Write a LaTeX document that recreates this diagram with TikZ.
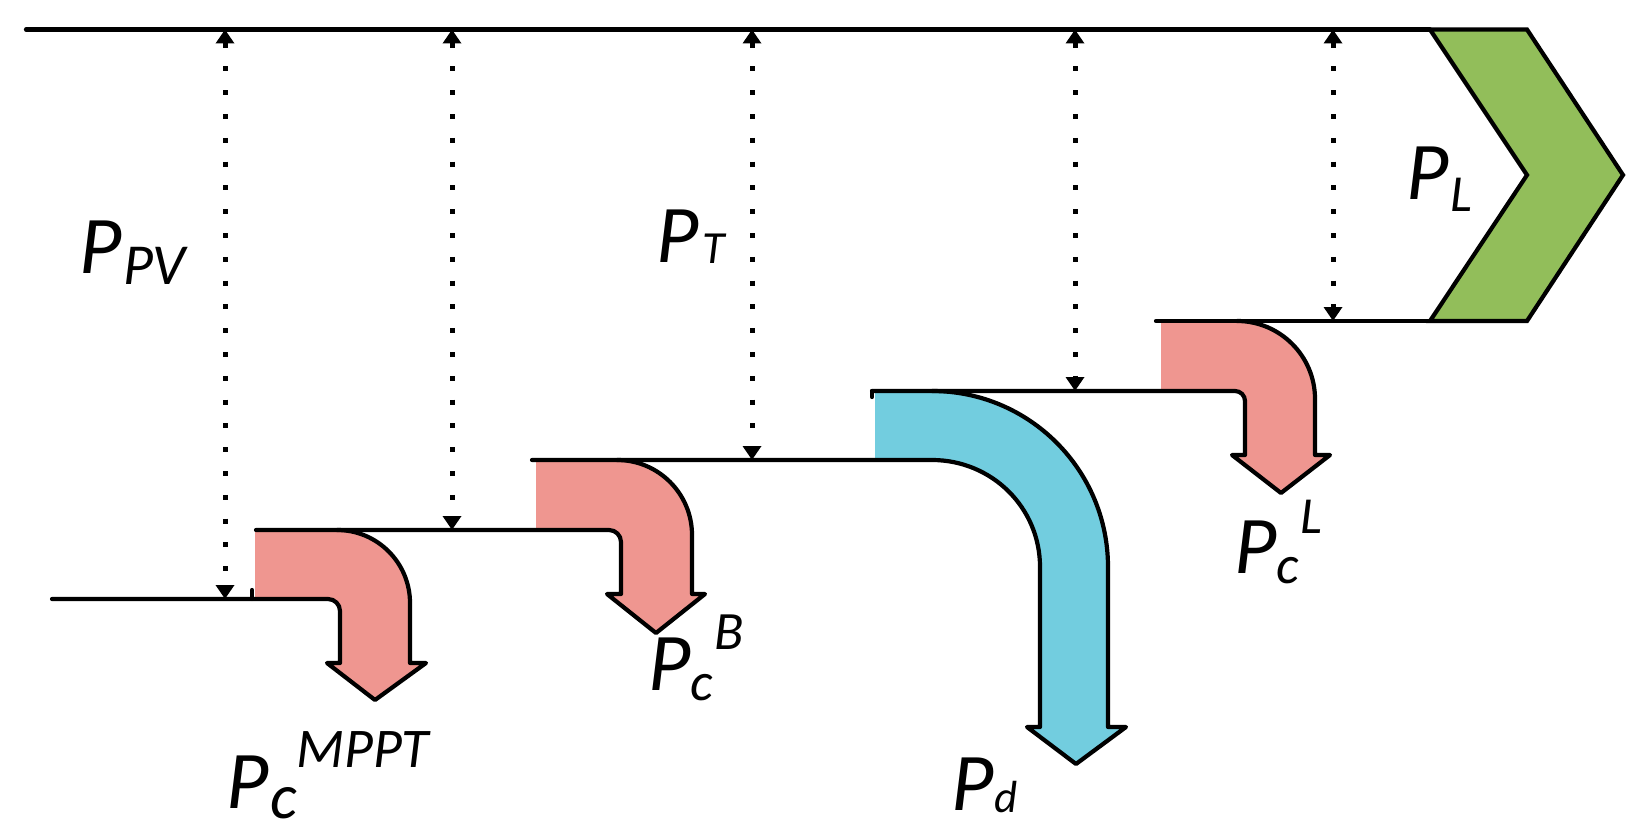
\documentclass[tikz,border=0pt]{standalone}
\usepackage{fontspec}
\setmainfont{Carlito}
\usetikzlibrary{arrows.meta}
\definecolor{pinkf}{RGB}{239,150,144}
\definecolor{bluef}{RGB}{114,205,223}
\definecolor{greenf}{RGB}{146,190,90}
\begin{document}
\begin{tikzpicture}[x=1pt,y=-1pt,
  lvl/.style={line width=4.2pt,line join=round,line cap=round},
  dotarrow/.style={line width=5pt,dash pattern=on 5pt off 18.8pt,
    {Triangle[width=18pt,length=14pt]}-{Triangle[width=18pt,length=14pt]}},
  bigP/.style={inner sep=0pt,anchor=base west,font=\itshape\fontsize{82}{90}\selectfont},
  subA/.style={inner sep=0pt,anchor=base west,font=\itshape\fontsize{52}{56}\selectfont},
  subC/.style={inner sep=0pt,anchor=base west,font=\itshape\fontsize{#1}{#1}\selectfont},
]
\useasboundingbox (0,0) rectangle (1646,834);

% ---------- fills ----------
% MPPT arrow
\fill[pinkf] (255,530) -- (337,530) .. controls (377.3,530) and (410,562.7) .. (410,603)
  -- (410,663) -- (426,663) -- (375,700) -- (327,663) -- (340,663) -- (340,611)
  .. controls (340,604.4) and (334.6,599) .. (328,599) -- (255,599) -- cycle;
% B arrow
\fill[pinkf] (536,460) -- (617,460) .. controls (658.4,460) and (692,493.6) .. (692,535)
  -- (692,594) -- (705,594) -- (656,633) -- (607,594) -- (621,594) -- (621,542)
  .. controls (621,535.4) and (615.6,530) .. (609,530) -- (536,530) -- cycle;
% L arrow
\fill[pinkf] (1161,321) -- (1237,321) .. controls (1280,321) and (1315,356) .. (1315,399)
  -- (1315,455) -- (1330,455) -- (1281,493) -- (1232,455) -- (1245,455) -- (1245,401)
  .. controls (1245,395.5) and (1240.5,391) .. (1235,391) -- (1161,391) -- cycle;
% d arrow
\fill[bluef] (875,391) -- (932,391) .. controls (1029.2,391) and (1108,469.8) .. (1108,567)
  -- (1108,727) -- (1126,727) -- (1076,764) -- (1027,727) -- (1040,727) -- (1040,567)
  .. controls (1040,507.4) and (991.6,459) .. (932,459) -- (875,459) -- cycle;

% ---------- outlines / level lines ----------
\draw[lvl] (26,29.5) -- (1430,29.5);
\draw[lvl] (52,599) -- (328,599) .. controls (334.6,599) and (340,604.4) .. (340,611)
  -- (340,663) -- (327,663) -- (375,700) -- (426,663) -- (410,663) -- (410,603)
  .. controls (410,562.7) and (377.3,530) .. (337,530);
\draw[lvl] (256,530) -- (609,530) .. controls (615.6,530) and (621,535.4) .. (621,542)
  -- (621,594) -- (607,594) -- (656,633) -- (705,594) -- (692,594) -- (692,535)
  .. controls (692,493.6) and (658.4,460) .. (617,460);
\draw[lvl] (532,460) -- (932,460) .. controls (991.6,460) and (1040,507.4) .. (1040,567)
  -- (1040,727) -- (1027,727) -- (1076,764) -- (1126,727) -- (1108,727) -- (1108,567)
  .. controls (1108,469.8) and (1029.2,391) .. (932,391);
\draw[lvl] (872,391) -- (1235,391) .. controls (1240.5,391) and (1245,395.5) .. (1245,401)
  -- (1245,455) -- (1232,455) -- (1281,493) -- (1330,455) -- (1315,455) -- (1315,399)
  .. controls (1315,356) and (1280,321) .. (1237,321);
\draw[lvl] (1156,321) -- (1430,321);
\draw[lvl] (252,590) -- (252,599);
\draw[lvl] (872,391) -- (872,397);

% chevron
\draw[line width=4.2pt,line join=miter,fill=greenf]
  (1430,29.5) -- (1527,29.5) -- (1623,175) -- (1527,321) -- (1430,321) -- (1527,175) -- cycle;

% ---------- dotted arrows ----------
\coordinate (t1) at (225,29.5);  \coordinate (b1) at (225,599);
\coordinate (t2) at (452,29.5);  \coordinate (b2) at (452,530);
\coordinate (t3) at (752,29.5);  \coordinate (b3) at (752,460);
\coordinate (t4) at (1075,29.5); \coordinate (b4) at (1075,391);
\coordinate (t5) at (1333,29.5); \coordinate (b5) at (1333,321);
\draw[dotarrow] (t1) -- (b1);
\draw[dotarrow] (t2) -- (b2);
\draw[dotarrow] (t3) -- (b3);
\draw[dotarrow] (t4) -- (b4);
\draw[dotarrow] (t5) -- (b5);

% ---------- labels ----------
\node[bigP] (PPV) at (79,273) {P};
\node[subC=58] (PPVs) at (123,285) {PV};

\node[bigP] (PT) at (656,263) {P};
\node[subC=46] (PTs) at (702,264) {T};

\node[bigP] (PL) at (1406,200) {P};
\node[subA] (PLs) at (1450,212) {L};

\node[bigP] (PcL) at (1234,573) {P};
\node[subC=54] (PcLs) at (1276,583) {c};
\node[subA] (PcLu) at (1300,533) {L};

\node[bigP] (PcB) at (648,690) {P};
\node[subC=54] (PcBs) at (690,700) {c};
\node[subC=54] (PcBu) at (714,649) {B};

\node[bigP] (PcM) at (226,808) {P};
\node[subC=64] (PcMs) at (270,818) {c};
\node[subC=56] (PcMu) at (296,767) {MPPT};

\node[bigP] (Pd) at (951,810) {P};
\node[subC=45] (Pds) at (994,812) {d};
\end{tikzpicture}
\end{document}
